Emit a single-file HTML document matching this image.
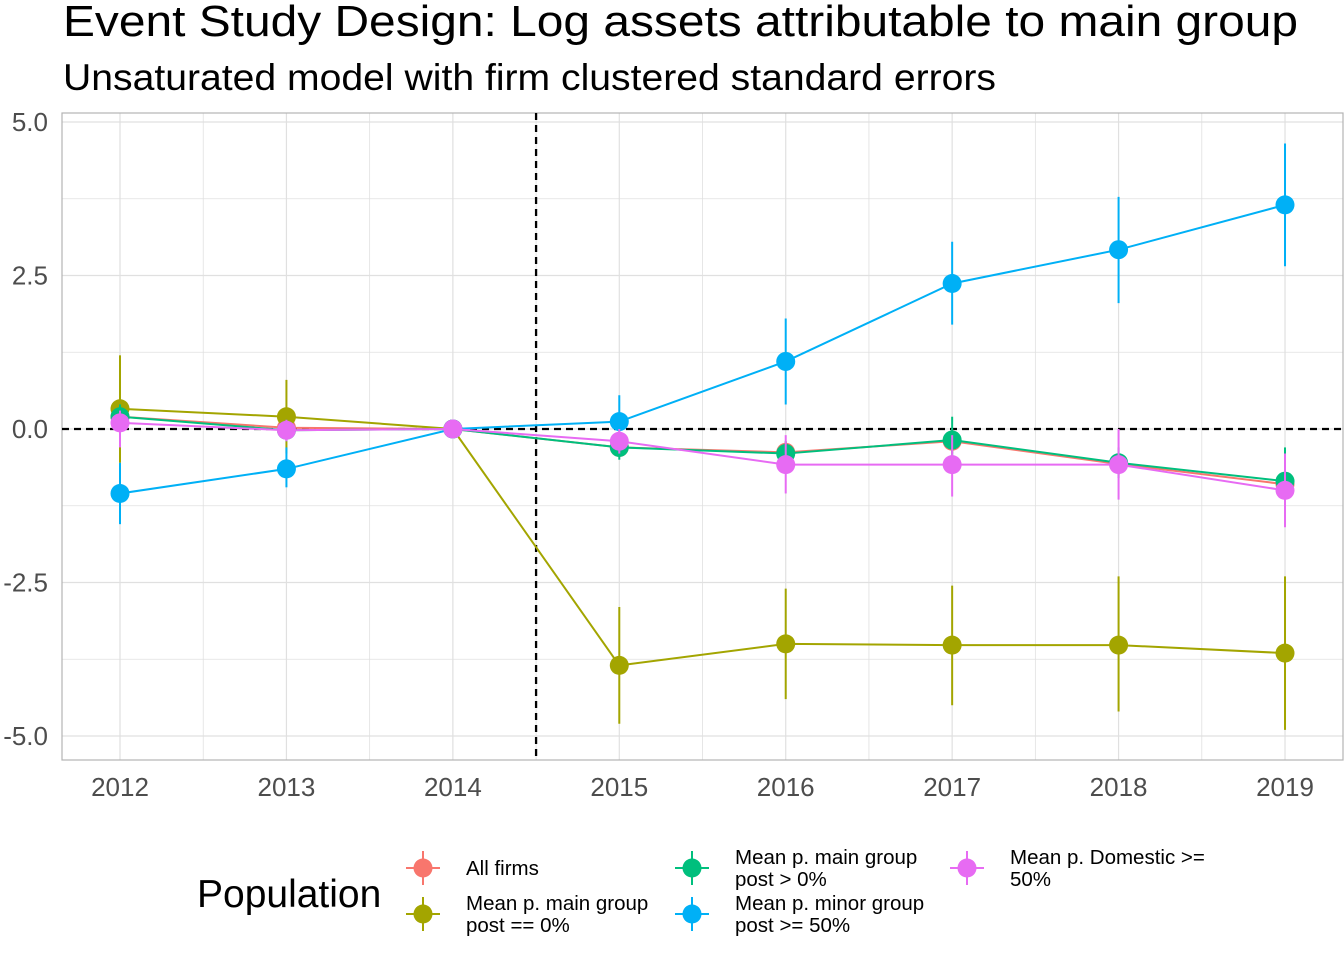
<!DOCTYPE html>
<html><head><meta charset="utf-8"><style>
body{margin:0;background:#fff;font-family:"Liberation Sans",sans-serif;}
svg text{font-family:"Liberation Sans",sans-serif;}
</style></head><body>
<svg id="c" width="1344" height="960" xmlns="http://www.w3.org/2000/svg">
<text x="63" y="36" font-size="44" textLength="1235" lengthAdjust="spacingAndGlyphs" fill="#000">Event Study Design: Log assets attributable to main group</text>
<text x="63" y="90" font-size="37" textLength="933" lengthAdjust="spacingAndGlyphs" fill="#000">Unsaturated model with firm clustered standard errors</text>
<g id="grid"></g><g id="marks"></g><g id="axes"></g><g id="legend"></g>
</svg>
<script>
const years=[2012,2013,2014,2015,2016,2017,2018,2019];
const yTicks=[5,2.5,0,-2.5,-5];
const yTickLabels=["5.0","2.5","0.0","-2.5","-5.0"];
const seriesNames=["All firms","Mean p. main group post == 0%","Mean p. main group post > 0%","Mean p. minor group post >= 50%","Mean p. Domestic >= 50%"];
const colors=["#F8766D","#A3A500","#00BF7D","#00B0F6","#E76BF3"];
const estAll=[0.2,0.02,0,-0.3,-0.38,-0.2,-0.57,-0.9];
const loAll=[0.05,-0.1,0,-0.45,-0.55,-0.4,-0.75,-1.1];
const hiAll=[0.35,0.14,0,-0.15,-0.2,0.0,-0.4,-0.7];
const estZero=[0.33,0.2,0,-3.85,-3.5,-3.52,-3.52,-3.65];
const loZero=[-0.55,-0.4,0,-4.8,-4.4,-4.5,-4.6,-4.9];
const hiZero=[1.2,0.8,0,-2.9,-2.6,-2.55,-2.4,-2.4];
const estPos=[0.2,-0.02,0,-0.3,-0.4,-0.18,-0.55,-0.85];
const loPos=[0.0,-0.2,0,-0.5,-0.6,-0.6,-0.8,-1.1];
const hiPos=[0.4,0.15,0,-0.1,-0.2,0.2,-0.3,-0.3];
const estMinor=[-1.05,-0.65,0,0.12,1.1,2.37,2.92,3.65];
const loMinor=[-1.55,-0.95,0,-0.3,0.4,1.7,2.05,2.65];
const hiMinor=[-0.55,-0.3,0,0.55,1.8,3.05,3.78,4.65];
const estDom=[0.1,-0.02,0,-0.2,-0.58,-0.58,-0.58,-1.0];
const loDom=[-0.3,-0.2,0,-0.4,-1.05,-1.1,-1.15,-1.6];
const hiDom=[0.3,0.15,0,0.0,-0.1,-0.1,0.0,-0.4];
const est=[estAll,estZero,estPos,estMinor,estDom],lo=[loAll,loZero,loPos,loMinor,loDom],hi=[hiAll,hiZero,hiPos,hiMinor,hiDom];
const NS="http://www.w3.org/2000/svg";
const X=v=>120+(v-2012)*166.43, Y=v=>429-v*61.4;
function mk(p,t,a){const e=document.createElementNS(NS,t);for(const k in a)e.setAttribute(k,a[k]);p.appendChild(e);return e;}
const grid=document.getElementById('grid'),marks=document.getElementById('marks'),axes=document.getElementById('axes'),lg=document.getElementById('legend');
const L=62,R=1343,T=113,B=760;
for(let v=-5;v<=5;v+=1.25){const g=mk(grid,'line',{x1:L,x2:R,y1:Y(v),y2:Y(v),stroke:'#e0e0e0','stroke-width':v%2.5===0?1.2:0.8});

}
for(let v=2012;v<=2019.5;v+=0.5){const g=mk(grid,'line',{x1:X(v),x2:X(v),y1:T,y2:B,stroke:'#e0e0e0','stroke-width':Number.isInteger(v)?1.2:0.8});

}
const fr=mk(grid,'rect',{x:L,y:T,width:R-L,height:B-T,fill:'none',stroke:'#b3b3b3','stroke-width':1.2});


const h0=mk(grid,'line',{x1:L,x2:R,y1:Y(0),y2:Y(0),stroke:'#000','stroke-width':2.3,'stroke-dasharray':'7,5'});


const v0=mk(grid,'line',{x1:X(2014.5),x2:X(2014.5),y1:T,y2:B,stroke:'#000','stroke-width':2.3,'stroke-dasharray':'7,5'});


for(let s=0;s<5;s++){
 const g=mk(marks,'g',{});
 
 
 const pl=mk(g,'polyline',{points:years.map((y,i)=>X(y)+','+Y(est[s][i])).join(' '),fill:'none',stroke:colors[s],'stroke-width':2});
 
 
 years.forEach((y,i)=>{
  const eb=mk(g,'line',{x1:X(y),x2:X(y),y1:Y(hi[s][i]),y2:Y(lo[s][i]),stroke:colors[s],'stroke-width':2});
  
  
  const c=mk(g,'circle',{cx:X(y),cy:Y(est[s][i]),r:9.5,fill:colors[s]});
  
  
 });
}
yTicks.forEach((v,i)=>{const t=mk(axes,'text',{x:48,y:Y(v)+9,'font-size':26,fill:'#4d4d4d','text-anchor':'end'});t.textContent=yTickLabels[i];

});
years.forEach(y=>{const t=mk(axes,'text',{x:X(y),y:796,'font-size':26,fill:'#4d4d4d','text-anchor':'middle'});t.textContent=y;

});
const lt=mk(lg,'text',{x:197,y:907,'font-size':39,fill:'#000'});lt.textContent='Population';


const pos=[[423,868,["All firms"]],[423,914,["Mean p. main group","post == 0%"]],[692,868,["Mean p. main group","post > 0%"]],[692,914,["Mean p. minor group","post >= 50%"]],[967,868,["Mean p. Domestic >=","50%"]]];
pos.forEach((p,s)=>{
 const g=mk(lg,'g',{});
 
 
 mk(g,'line',{x1:p[0]-17,x2:p[0]+17,y1:p[1],y2:p[1],stroke:colors[s],'stroke-width':2});
 mk(g,'line',{x1:p[0],x2:p[0],y1:p[1]-17,y2:p[1]+17,stroke:colors[s],'stroke-width':2});
 mk(g,'circle',{cx:p[0],cy:p[1],r:9.5,fill:colors[s]});
 const n=p[2].length;
 p[2].forEach((ln,k)=>{const t=mk(g,'text',{x:p[0]+43,y:p[1]+7+(k-(n-1)/2)*22,'font-size':20.5,fill:'#000'});t.textContent=ln;});
});
</script>
</body></html>
